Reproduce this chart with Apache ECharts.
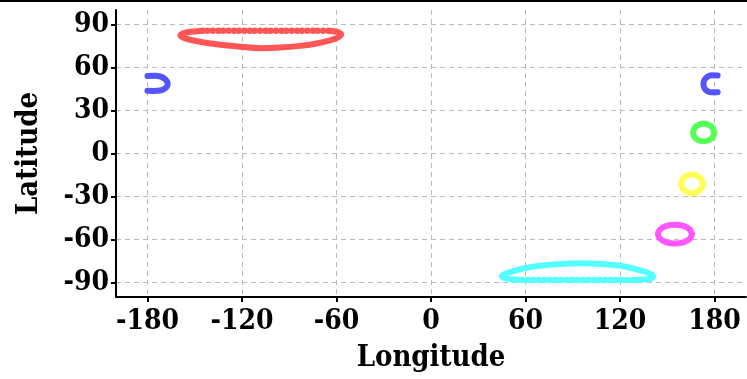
<!DOCTYPE html>
<html><head><meta charset="utf-8">
<script src="https://cdn.jsdelivr.net/npm/echarts@6/dist/echarts.min.js"></script>
<style>html,body{margin:0;padding:0;background:#fff}#c{width:747px;height:379px}</style>
</head><body><div id="c"></div>
<script>
const xTicks = [-180, -120, -60, 0, 60, 120, 180];
const yTicks = [-90, -60, -30, 0, 30, 60, 90];

// red cap near north pole: continuous arc + dotted top row
const redArc = [[-147,85.4],[-152.7,84.8],[-157.2,83.8],[-159.1,82.4],[-157.2,80.7],[-151.5,78.9],[-143.2,77.2],[-133.7,75.8],[-121,74.4],[-108.4,73.4],[-95.7,73.8],[-83,75],[-73.5,76.5],[-64,78.9],[-58.9,81],[-57,83.1],[-59.6,84.8],[-64,85.4]];
const redDots = [[-145,85.6],[-142,85.6],[-138.5,85.6],[-135,85.6],[-132,85.6],[-128.5,85.6],[-125,85.6],[-122,85.6],[-118.5,85.6],[-115,85.6],[-112,85.6],[-108.5,85.6],[-105,85.6],[-102,85.6],[-98.5,85.6],[-95,85.6],[-92,85.6],[-88.5,85.6],[-85,85.6],[-82,85.6],[-78.5,85.6],[-75,85.6],[-72,85.6],[-68.5,85.6],[-65,85.6]];
// cyan cap near south pole
const cyanArc = [[58,-88.1],[52,-87.8],[47.5,-87.1],[45,-85.6],[47.2,-83.8],[51.3,-82.3],[60.8,-79.6],[75.4,-77.6],[96.3,-76.4],[117.9,-77.9],[130.5,-80.7],[138.8,-83.6],[141,-85.6],[139.5,-87.2],[134,-87.9],[127,-88.1]];
const cyanDots = [[58,-88.1],[61.5,-88.1],[65,-88.1],[68.5,-88.1],[72,-88.1],[75.5,-88.1],[79,-88.1],[82.5,-88.1],[86,-88.1],[89.5,-88.1],[93,-88.1],[96.5,-88.1],[100,-88.1],[103.5,-88.1],[107,-88.1],[110.5,-88.1],[114,-88.1],[117.5,-88.1],[121,-88.1],[124.5,-88.1],[128,-88.1]];
// blue circle split by the dateline
const blueWest = [[-180,54],[-175,54.2],[-171.5,53.6],[-169,52],[-167.5,50],[-167.2,48.5],[-167.7,46.6],[-169.3,45],[-172,43.9],[-176,43.6],[-180,43.7]];
const blueEast = [[182,54.4],[178,54.5],[175.5,53.5],[173.6,51.3],[173,48.5],[173.6,45.5],[175.5,43.5],[178,42.6],[182,42.6]];
const greenRing = [[179.85,14.6],[178.95,17.65],[176.5,19.9],[173.1,20.7],[169.7,19.9],[167.25,17.65],[166.35,14.6],[167.25,11.55],[169.7,9.3],[173.1,8.5],[176.5,9.3],[178.95,11.55],[179.85,14.6]];
const yellowRing = [[172.6,-21.1],[171.7,-17.9],[169.15,-15.55],[165.7,-14.7],[162.25,-15.55],[159.7,-17.9],[158.8,-21.1],[159.7,-24.3],[162.25,-26.65],[165.7,-27.5],[169.15,-26.65],[171.7,-24.3],[172.6,-21.1]];
const magentaRing = [[165.7,-56.2],[164.25,-52.9],[160.3,-50.5],[154.9,-49.6],[149.5,-50.5],[145.55,-52.9],[144.1,-56.2],[145.55,-59.5],[149.5,-61.9],[154.9,-62.8],[160.3,-61.9],[164.25,-59.5],[165.7,-56.2]];

const C = {red:'#ff5555', blue:'#5555ff', green:'#55ff55', yellow:'#ffff55', magenta:'#ff55ff', cyan:'#55ffff'};
const FONT = "'DejaVu Serif Condensed', 'DejaVu Serif'";

function lineS(data, color) {
  return {type:'line', data, smooth:0.4, showSymbol:false, symbol:'none', silent:true,
    lineStyle:{color, width:6, cap:'round', join:'round', opacity:1}, animation:false};
}
function dotS(data, color) {
  return {type:'scatter', data, symbolSize:6.5, silent:true, itemStyle:{color, opacity:1}, animation:false};
}

const chart = echarts.init(document.getElementById('c'), null, {renderer:'canvas'});
chart.setOption({
  animation:false,
  backgroundColor:'#fff',
  grid:{left:116, right:1, top:10, bottom:82, containLabel:false},
  xAxis:{type:'value', min:-200, max:200,
    name:'Longitude', nameLocation:'middle', nameGap:47,
    nameTextStyle:{fontFamily:FONT, fontWeight:'bold', fontSize:29, color:'#000'},
    axisLine:{show:true, onZero:false, lineStyle:{color:'#000', width:2}},
    axisTick:{show:true, length:5, customValues:xTicks, lineStyle:{color:'#000', width:2}},
    axisLabel:{customValues:xTicks, margin:11, fontFamily:FONT, fontWeight:'bold', fontSize:28, color:'#000'},
    splitLine:{show:true, lineStyle:{color:'#bbbbbb', width:1, type:[5,4]}}
  },
  yAxis:{type:'value', min:-100, max:100,
    name:'Latitude', nameLocation:'middle', nameGap:72, nameRotate:90,
    nameTextStyle:{fontFamily:FONT, fontWeight:'bold', fontSize:29, color:'#000'},
    axisLine:{show:true, onZero:false, lineStyle:{color:'#000', width:2}},
    axisTick:{show:true, length:5, customValues:yTicks, lineStyle:{color:'#000', width:2}},
    axisLabel:{customValues:yTicks, margin:7, fontFamily:FONT, fontWeight:'bold', fontSize:28, color:'#000'},
    splitLine:{show:true, lineStyle:{color:'#bbbbbb', width:1, type:[5,4]}}
  },
  graphic:[{type:'rect', left:0, top:0, shape:{width:747, height:2}, style:{fill:'#000'}, silent:true}],
  series:[
    lineS(redArc, C.red), dotS(redDots, C.red),
    lineS(cyanArc, C.cyan), dotS(cyanDots, C.cyan),
    lineS(blueWest, C.blue), lineS(blueEast, C.blue),
    lineS(greenRing, C.green), lineS(yellowRing, C.yellow), lineS(magentaRing, C.magenta)
  ]
});
</script></body></html>
